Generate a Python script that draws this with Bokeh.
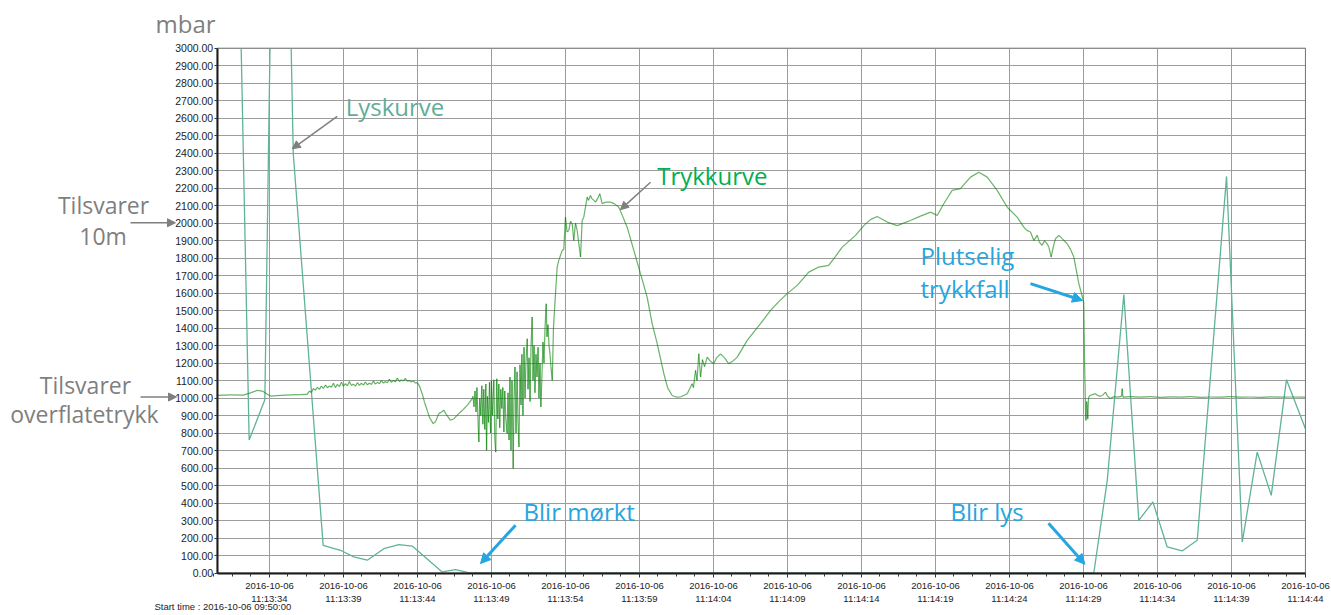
from bokeh.plotting import figure
from bokeh.models import (FixedTicker, PrintfTickFormatter, Label, Arrow, NormalHead, Range1d,
                          LinearAxis, Grid)
from bokeh.embed import file_html
from bokeh.resources import INLINE
import numpy as np

# ---------------- data (time in seconds after 11:13:30, values in mbar) ----------------
light_t = [2.03, 2.63, 3.69, 4.08, 5.41, 5.61, 7.63, 8.80, 9.70, 10.61, 11.73, 12.74, 13.65,
           15.67, 16.57, 17.59, 59.70, 60.61, 61.73, 62.74, 63.69, 64.66, 65.67, 66.69, 68.67,
           69.73, 70.74, 71.69, 72.72, 74.00]
light_v = [3250, 760, 990, 3250, 3250, 2397, 158, 130, 92, 73, 139, 162, 154,
           6, 19, 0, 0, 530, 1592, 301, 406, 149, 126, 187, 2267,
           177, 691, 444, 1105, 825]

press_t = [
    0.49, 1.37, 2.25, 2.72, 3.17, 3.53, 3.73, 4.07, 4.75, 5.42, 6.10, 6.55,
    6.70, 6.84, 6.97, 7.11, 7.24, 7.38, 7.51, 7.65, 7.78, 7.92,
    8.05, 8.19, 8.32, 8.46, 8.59, 8.73, 8.86, 9.00, 9.13, 9.27,
    9.40, 9.54, 9.67, 9.81, 9.94, 10.08, 10.21, 10.35, 10.48, 10.62,
    10.75, 10.89, 11.02, 11.16, 11.29, 11.43, 11.56, 11.70, 11.83, 11.97,
    12.10, 12.24, 12.37, 12.51, 12.64, 12.78, 12.91, 13.05, 13.18, 13.32,
    13.45, 13.59, 13.72, 13.86, 13.99, 14.13,
    14.32, 14.48, 14.66, 14.81, 15.06, 15.22, 15.44, 15.63, 15.78, 15.96, 16.23, 16.44,
    16.79, 17.04, 17.36, 17.52, 17.70,
    17.75, 17.82, 17.89, 17.96, 18.02, 18.09, 18.15, 18.21, 18.28, 18.35,
    18.42, 18.48, 18.55, 18.62, 18.67, 18.73, 18.80, 18.87, 18.94, 19.00,
    19.07, 19.16, 19.23, 19.29, 19.36, 19.43, 19.50, 19.56, 19.63, 19.70,
    19.77, 19.84, 19.90, 19.97, 20.06, 20.12, 20.19, 20.25, 20.32, 20.39,
    20.47, 20.52, 20.59, 20.66, 20.73, 20.79, 20.86, 20.93, 21.00, 21.06,
    21.13, 21.20, 21.27, 21.33, 21.42, 21.47, 21.54, 21.61, 21.67, 21.75,
    21.81, 21.88, 21.94, 22.01, 22.08, 22.15, 22.21, 22.28, 22.34, 22.42,
    22.48, 22.55, 22.62, 22.70, 22.75, 22.82, 22.89, 22.96, 23.02, 23.11,
    23.19, 23.33, 23.44, 23.55, 23.78, 23.89, 24.00, 24.11, 24.23, 24.34,
    24.46, 24.56, 24.68, 24.79, 24.88, 25.02, 25.13, 25.24, 25.47, 25.56,
    25.69, 25.79, 25.92, 26.03, 26.17, 26.32, 26.48, 26.71, 27.04, 27.32,
    27.61, 27.86, 28.17, 28.62, 29.07, 29.52, 29.86, 30.20, 30.65, 30.90,
    31.21, 31.50, 31.77, 32.23, 32.38, 32.56, 32.65, 32.79, 32.89, 33.01,
    33.13, 33.26, 33.40, 33.58, 33.80, 34.02, 34.21, 34.48, 34.75, 35.04,
    35.29, 35.61, 36.28, 37.18, 37.86, 38.40, 38.98, 39.66, 40.44, 41.12,
    41.79, 42.25, 42.70, 43.60, 44.16, 44.61, 45.06, 45.74, 46.42, 46.84,
    47.31, 47.99, 48.67, 49.12, 49.56, 50.13, 50.69, 51.37, 51.93, 52.50,
    53.17, 53.85, 54.52, 54.97, 55.15, 55.42, 55.65, 55.88, 56.03, 56.21,
    56.37, 56.55, 56.67, 56.82, 56.98, 57.11, 57.34, 57.58, 57.90, 58.13,
    58.35, 58.69, 59.02, 59.07, 59.14, 59.17, 59.21, 59.25, 59.29, 59.34,
    59.43, 59.61, 59.81, 59.95, 60.15, 60.29, 60.49, 60.63, 60.83, 61.03,
    61.30, 61.57, 61.62, 61.67, 62.18, 62.85, 63.53, 64.21, 64.88, 65.56,
    66.23, 66.91, 67.59, 68.26, 68.94, 69.61, 70.29, 70.96, 71.64, 72.31,
    72.99, 74.00]
press_v = [
    1015, 1018, 1017, 1030, 1044, 1040, 1029, 1011, 1015, 1018, 1020, 1021,
    1040, 1032, 1055, 1045, 1062, 1050, 1068, 1055, 1075, 1058,
    1070, 1062, 1085, 1060, 1078, 1065, 1090, 1068, 1082, 1070,
    1095, 1072, 1080, 1068, 1088, 1072, 1085, 1074, 1092, 1075,
    1086, 1078, 1098, 1080, 1090, 1082, 1100, 1085, 1095, 1088,
    1108, 1090, 1102, 1092, 1115, 1095, 1105, 1098, 1112, 1096,
    1100, 1092, 1098, 1085, 1088, 1070,
    1025, 975, 930, 890, 854, 865, 911, 920, 930, 905, 873, 880,
    911, 930, 958, 975, 997,
    1010, 950, 1040, 920, 1060, 880, 749, 1000, 900, 1070,
    850, 1050, 820, 1080, 701, 1010, 860, 1090, 800, 1100,
    900, 1105, 760, 691, 1110, 880, 1080, 830, 1050, 940,
    1060, 806, 1040, 880, 797, 1030, 760, 1120, 700, 1100,
    597, 980, 1177, 800, 1150, 880, 720, 1190, 960, 1250,
    900, 1291, 1000, 1200, 1339, 1050, 1230, 980, 1280, 1463,
    1100, 1300, 1030, 1250, 1120, 1290, 1000, 1200, 949, 1150,
    1320, 1200, 1400, 1539, 1350, 1420, 1300, 1250, 1180, 1101,
    1400, 1600, 1749, 1787, 1844, 1850, 2034, 1950, 1958, 2010,
    1996, 1901, 2000, 1958, 1900, 1806, 2015, 2034, 2149, 2130,
    2158, 2140, 2130, 2120, 2140, 2168, 2111, 2120, 2120, 2110,
    2091, 2040, 1977, 1844, 1711, 1577, 1425, 1311, 1139, 1060,
    1015, 1005, 1006, 1025, 1050, 1082, 1060, 1158, 1100, 1253,
    1120, 1220, 1180, 1234, 1210, 1196, 1230, 1253, 1230, 1196,
    1210, 1234, 1330, 1425, 1501, 1550, 1597, 1644, 1720, 1749,
    1758, 1810, 1863, 1930, 1986, 2020, 2038, 2006, 1986, 2000,
    2015, 2040, 2063, 2044, 2111, 2187, 2197, 2263, 2291, 2263,
    2187, 2091, 2034, 1977, 1960, 1949, 1901, 1930, 1890, 1873,
    1900, 1882, 1860, 1806, 1870, 1911, 1930, 1910, 1882, 1850,
    1806, 1654, 1549, 1234, 930, 872, 980, 968, 880, 1000,
    1015, 1020, 1025, 1015, 1010, 1015, 1034, 1010, 997, 1008,
    1005, 1010, 1054, 1005, 1008, 1005, 1008, 1004, 1007, 1005,
    1008, 1004, 1006, 1005, 1008, 1005, 1006, 1004, 1007, 1005,
    1006, 1005]

tick_secs = [4, 9, 14, 19, 24, 29, 34, 39, 44, 49, 54, 59, 64, 69, 74]
tick_labels = ["2016-10-06\n11:13:34", "2016-10-06\n11:13:39", "2016-10-06\n11:13:44",
               "2016-10-06\n11:13:49", "2016-10-06\n11:13:54", "2016-10-06\n11:13:59",
               "2016-10-06\n11:14:04", "2016-10-06\n11:14:09", "2016-10-06\n11:14:14",
               "2016-10-06\n11:14:19", "2016-10-06\n11:14:24", "2016-10-06\n11:14:29",
               "2016-10-06\n11:14:34", "2016-10-06\n11:14:39", "2016-10-06\n11:14:44"]
y_ticks = list(range(0, 3001, 100))

# plotted data window
X0, X1 = 0.47, 74.0
Y0, Y1 = 0, 3000

# ---------------- figure: frame covers the whole canvas, axes sit at fixed locations ----------------
p = figure(width=1331, height=615, output_backend="svg", toolbar_location=None,
           x_range=Range1d(-14.172, 75.761), y_range=Range1d(-242.86, 3272.57),
           x_axis_location=None, y_axis_location=None,
           min_border=0, min_border_left=0, min_border_right=0,
           min_border_top=0, min_border_bottom=0)
p.background_fill_color = "white"
p.border_fill_color = "white"
p.outline_line_color = None
p.grid.visible = False

xticker = FixedTicker(ticks=tick_secs,
                      minor_ticks=[m for m in np.arange(0.25, 74.01, 1.25)
                                   if all(abs(m - t) > 0.01 for t in tick_secs)])
yticker = FixedTicker(ticks=y_ticks)

GRID = "#9c9c9c"
xg = Grid(dimension=0, ticker=xticker, grid_line_color=GRID, grid_line_width=1, bounds=(X0, X1))
yg = Grid(dimension=1, ticker=yticker, grid_line_color=GRID, grid_line_width=1, bounds=(Y0, Y1))
if "cross_bounds" in Grid.properties():
    xg.cross_bounds = (Y0, Y1)
    yg.cross_bounds = (X0, X1)
    p.add_layout(xg)
    p.add_layout(yg)
else:
    p.segment(x0=tick_secs, y0=Y0, x1=tick_secs, y1=Y1, line_color=GRID, line_width=1, level="underlay")
    p.segment(x0=X0, y0=y_ticks, x1=X1, y1=y_ticks, line_color=GRID, line_width=1, level="underlay")

# ---------------- series ----------------
p.line(light_t, light_v, line_color="#5fb39b", line_width=1.3)
pt = np.array(press_t)
pv = np.array(press_v)
p.segment(x0=pt[:-1], y0=pv[:-1], x1=pt[1:], y1=pv[1:],
          line_color="#008000", line_alpha=0.6, line_width=1.2)

# keep the curves inside the plotted window (white cover above the top edge)
p.quad(left=[X0 - 0.1], right=[X1 + 0.1], bottom=[Y1], top=[6000],
       fill_color="white", line_color=None)
# plot border
p.quad(left=[X0], right=[X1], bottom=[Y0], top=[Y1], fill_color=None,
       line_color="#7a7a7a", line_width=1)

# ---------------- axes ----------------
xaxis = LinearAxis(fixed_location=Y0, bounds=(X0, X1), ticker=xticker)
xaxis.major_label_overrides = dict(zip(tick_secs, tick_labels))
yaxis = LinearAxis(fixed_location=X0, bounds=(Y0, Y1), ticker=yticker,
                   formatter=PrintfTickFormatter(format="%.2f"))
for ax in (xaxis, yaxis):
    ax.axis_line_color = "#1a1a1a"
    ax.axis_line_width = 2
    ax.major_tick_line_color = "#333333"
    ax.minor_tick_line_color = "#333333"
    ax.major_tick_in = 0
    ax.minor_tick_in = 0
    ax.major_label_text_font = "Liberation Sans"
    ax.major_label_text_color = "#222222"
xaxis.major_tick_out = 4
xaxis.minor_tick_out = 3
xaxis.major_label_standoff = 3
xaxis.major_label_text_font_size = "9.5px"
yaxis.major_tick_out = 3
yaxis.minor_tick_out = 0
yaxis.major_label_standoff = 1
yaxis.major_label_text_font_size = "10.5px"
p.add_layout(xaxis, "below")
p.add_layout(yaxis, "left")

# ---------------- annotations ----------------
GREY = "#7f7f7f"
BLUE = "#27a5e0"
FONT = "Open Sans"


def lab(x, y, text, color, size="24px", align="left", baseline="middle"):
    p.add_layout(Label(x=x, y=y, text=text, text_color=color, text_font=FONT,
                       text_font_size=size, text_align=align, text_baseline=baseline))


def arr(x0, y0, x1, y1, color, width, size):
    p.add_layout(Arrow(end=NormalHead(size=size, fill_color=color, line_color=color, line_width=1),
                       x_start=x0, y_start=y0, x_end=x1, y_end=y1,
                       line_color=color, line_width=width))


lab(-3.70, 3141, "mbar", GREY, size="24px")
lab(-7.21, 2101, "Tilsvarer", GREY, size="23px", align="center")
lab(-7.24, 1929, "10m", GREY, size="23px", align="center")
lab(-8.43, 1073, "Tilsvarer", GREY, size="23px", align="center")
lab(-8.50, 908, "overflatetrykk", GREY, size="23px", align="center")
arr(-5.39, 2002, -2.35, 2002, GREY, 1.5, 8)
arr(-4.71, 1006, -2.28, 1006, GREY, 1.5, 8)

lab(9.15, 2667, "Lyskurve", "#5fae98")
arr(8.58, 2610, 5.54, 2425, GREY, 1.5, 8)

lab(30.20, 2273, "Trykkurve", "#00b050")
arr(29.75, 2234, 27.72, 2077, GREY, 1.5, 8)

lab(21.17, 353, "Blir mørkt", BLUE)
arr(20.63, 273, 18.26, 54, BLUE, 3, 10)

lab(50.02, 353, "Blir lys", BLUE)
arr(56.64, 284, 59.10, 50, BLUE, 3, 10)

lab(47.99, 1815, "Plutselig", BLUE)
lab(47.99, 1627, "trykkfall", BLUE)
arr(55.42, 1654, 58.94, 1558, BLUE, 3, 10)

p.add_layout(Label(x=-3.77, y=-190, text="Start time : 2016-10-06 09:50:00", text_color="#222222",
                   text_font="Liberation Sans", text_font_size="9.5px", text_baseline="middle"))

open("out.html", "w").write(file_html(p, INLINE))
